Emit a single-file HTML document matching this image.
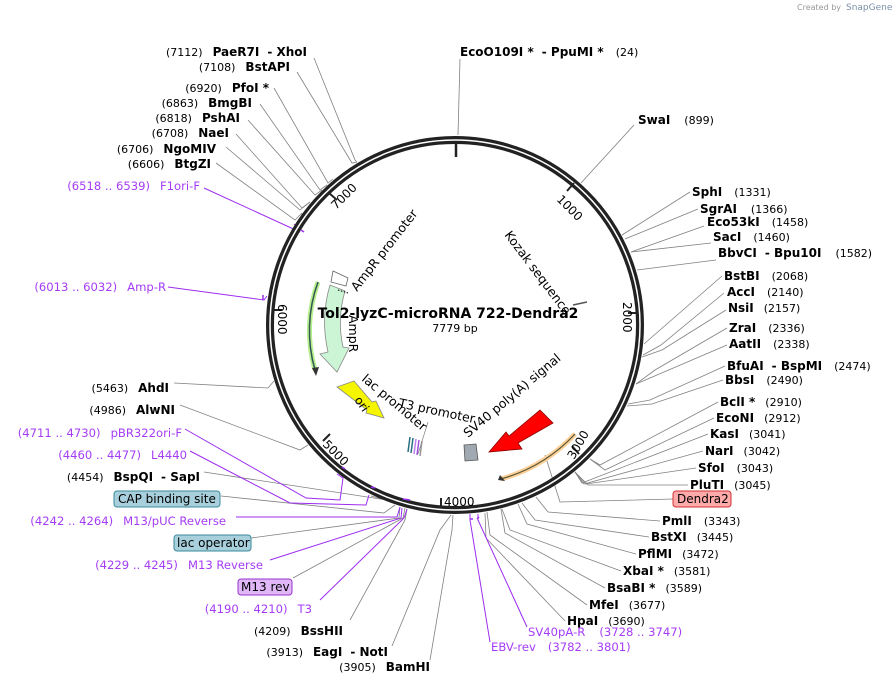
<!DOCTYPE html>
<html><head><meta charset="utf-8"><style>
html,body{margin:0;padding:0;background:#fff;}
svg{display:block;font-family:"DejaVu Sans","Liberation Sans",sans-serif;}
.n{font-weight:bold;font-size:12px;fill:#000}
.p{font-size:11px;fill:#000}
.pu{font-size:11.6px;fill:#a53cf5}
.l{stroke:#808080;stroke-width:0.8;fill:none}
.lp{stroke:#9c2cf0;stroke-width:1;fill:none}
.f{font-size:12px;fill:#000}
</style></head><body>
<svg width="895" height="686" viewBox="0 0 895 686" xmlns="http://www.w3.org/2000/svg">
<text x="797" y="10" font-size="8" fill="#999">Created by</text>
<text x="846" y="10" font-size="9" fill="#7a8ea8">SnapGene</text>

<path class="l" d="M458,135 L460,59"/>
<path class="l" d="M581,183 L634,125"/>
<path class="l" d="M622,235 L690,192"/>
<path class="l" d="M625,239 L698,209"/>
<path class="l" d="M631,252 L704,226"/>
<path class="l" d="M631,252 L711,243"/>
<path class="l" d="M637,270 L716,260"/>
<path class="l" d="M644,344 L660,330 L722,276"/>
<path class="l" d="M643,355 L661,345 L724,293"/>
<path class="l" d="M642,357 L662,350 L726,310"/>
<path class="l" d="M636,384 L655,370 L727,328"/>
<path class="l" d="M636,384 L657,375 L727,345"/>
<path class="l" d="M628,404 L650,400 L725,366"/>
<path class="l" d="M627,406 L652,404 L723,380"/>
<path class="l" d="M590,459 L600,465 L718,402"/>
<path class="l" d="M590,459 L605,470 L714,418"/>
<path class="l" d="M575,472 L582,483 L708,434"/>
<path class="l" d="M575,472 L584,484 L703,451"/>
<path class="l" d="M575,472 L586,484 L696,468"/>
<path class="l" d="M575,472 L588,485 L688,485"/>
<path class="l" d="M545,455 L560,502 L673,499"/>
<path class="l" d="M536,497 L548,512 L660,521"/>
<path class="l" d="M522,503 L535,520 L649,537"/>
<path class="l" d="M518,504 L527,524 L636,554"/>
<path class="l" d="M502,509 L510,530 L621,571"/>
<path class="l" d="M501,509 L505,533 L605,588"/>
<path class="l" d="M487,512 L490,535 L587,605"/>
<path class="l" d="M485,513 L486,538 L565,621"/>
<path class="lp" d="M478,514 L478,520 L527,627"/>
<path class="lp" d="M470,514 L470,520 L490,642"/>
<path class="l" d="M453,515 L452,530 L430,660"/>
<path class="l" d="M451,515 L440,530 L392,646"/>
<path class="l" d="M407,509 L405,520 L350,620"/>
<path class="lp" d="M407,509 L404,518 L320,600"/>
<path class="l" d="M405,508 L403,518 L293,578"/>
<path class="lp" d="M402,508 L401,518 L270,560"/>
<path class="l" d="M400,507 L399,518 L251,538"/>
<path class="lp" d="M400,507 L397,517 L236,517"/>
<path class="l" d="M395,505 L384,513 L221,496"/>
<path class="l" d="M371,496 L387,500 L204,472"/>
<path class="lp" d="M369,495 L366,505 L290,503 L190,451"/>
<path class="lp" d="M337,474 L343,478 L340,500 L306,498 L185,429"/>
<path class="l" d="M308,445 L300,450 L180,405"/>
<path class="l" d="M274,381 L268,388 L174,383"/>
<path class="lp" d="M267,296 L264,300 L168,287"/>
<path class="lp" d="M294,224 L300,232 L204,188"/>
<path class="l" d="M302,213 L295,220 L216,163"/>
<path class="l" d="M310,202 L300,210 L226,147"/>
<path class="l" d="M310,202 L302,208 L236,134"/>
<path class="l" d="M322,190 L315,195 L248,120"/>
<path class="l" d="M327,185 L320,190 L260,104"/>
<path class="l" d="M333,179 L328,183 L274,88"/>
<path class="l" d="M357,162 L352,163 L297,72"/>
<path class="l" d="M357,162 L355,160 L314,58"/>

<circle cx="455" cy="325" r="185" fill="none" stroke="#222" stroke-width="8"/>
<circle cx="455" cy="325" r="185" fill="none" stroke="#fff" stroke-width="1.5"/>
<path stroke="#222" stroke-width="2.5" d="M456,142 L456,157"/>
<g stroke="#222" stroke-width="2">
<path d="M574,183 L567,191"/>
<path d="M638,313 L628,313"/>
<path d="M579,454 L572,446"/>
<path d="M441,508 L441,498"/>
<path d="M323,441 L330,434"/>
<path d="M272,310 L282,310"/>
<path d="M329,193 L337,200"/>
</g>
<g font-size="12" fill="#000">
<text transform="translate(556,200) rotate(45)">1000</text>
<text transform="translate(623,302) rotate(90)">2000</text>
<text transform="translate(574,460) rotate(-60)">3000</text>
<text x="444" y="506">4000</text>
<text transform="translate(322,445) rotate(45)">5000</text>
<text transform="translate(278,304) rotate(90)">6000</text>
<text transform="translate(336,210) rotate(-45)">7000</text>
</g>

<!-- AmpR arrow r 113..133 -->
<path d="M330,285 A132,132 0 0 0 328,352 L320,354 L337,372 L349,348 L343,347 A113,113 0 0 1 345,291 Z" fill="#ccf5d5" stroke="#888" stroke-width="0.8"/>
<path d="M331,282 L346,286 L348,278 L333,271 Z" fill="#fff" stroke="#666" stroke-width="0.8"/>
<path d="M338,290 L348,293" stroke="#000" stroke-dasharray="1.5,1.5"/>
<path d="M318,282 A142,142 0 0 0 315,370" fill="none" stroke="#b6f08c" stroke-width="5"/>
<path d="M318,282 A142,142 0 0 0 315,370" fill="none" stroke="#355" stroke-width="1.5"/>
<path d="M312,368 L316,376 L319,367 Z" fill="#333"/>
<path d="M337,387 L354,381 L372,402 L376,401 L384,418 L366,413 L367,410 Z" fill="#f5f500" stroke="#888" stroke-width="0.8"/>
<text transform="translate(354,400) rotate(55)" font-size="12">ori</text>
<path d="M540,410 L553,423 L518,443 L522,449 L489,452 L506,432 L509,436 Z" fill="#f00" stroke="#800" stroke-width="0.8"/>
<path d="M575,434 A160,160 0 0 1 501,479" fill="none" stroke="#fdd09a" stroke-width="5"/>
<path d="M575,434 A160,160 0 0 1 501,479" fill="none" stroke="#553" stroke-width="1.2"/>
<path d="M500,475 L498,480 L505,481 Z" fill="#333"/>
<path d="M464,445 L476,444 L478,460 L465,461 Z" fill="#a0a8b2" stroke="#555" stroke-width="0.8"/>
<g stroke-width="1.5">
<path d="M410,437 L408,452" stroke="#2a6f80"/>
<path d="M413,438 L411,453" stroke="#2a6f80"/>
<path d="M416,439 L414,454" stroke="#c080f0"/>
<path d="M419,440 L417,455" stroke="#a050e0"/>
<path d="M422,441 L420,456" stroke="#999"/>
</g>
<path d="M428,422 L418,454" stroke="#888" stroke-width="0.8"/>
<path d="M573,305 L587,302" stroke="#555" stroke-width="1.5"/>

<g font-size="12.5" fill="#000">
<text transform="translate(357,292) rotate(-52)">AmpR promoter</text>
<text transform="translate(504,235) rotate(53)">Kozak sequence</text>
<text transform="translate(349,315) rotate(90)">AmpR</text>
<text transform="translate(361,380) rotate(40)">lac promoter</text>
<text transform="translate(398,407) rotate(12)">T3 promoter</text>
<text transform="translate(468,438) rotate(-40)">SV40 poly(A) signal</text>
</g>
<text x="448" y="318" text-anchor="middle" font-size="14" font-weight="bold">Tol2-lyzC-microRNA 722-Dendra2</text>
<text x="455" y="332" text-anchor="middle" font-size="11">7779 bp</text>

<text x="460" y="56"><tspan class="n">EcoO109I *</tspan><tspan class="n" dx="8">- PpuMI *</tspan><tspan class="p" dx="12">(24)</tspan></text>

<g>
<text x="638" y="124"><tspan class="n">SwaI</tspan><tspan class="p" dx="14">(899)</tspan></text>
<text x="692" y="196"><tspan class="n">SphI</tspan><tspan class="p" dx="12">(1331)</tspan></text>
<text x="700" y="213"><tspan class="n">SgrAI</tspan><tspan class="p" dx="14">(1366)</tspan></text>
<text x="707" y="226"><tspan class="n">Eco53kI</tspan><tspan class="p" dx="12">(1458)</tspan></text>
<text x="713" y="241"><tspan class="n">SacI</tspan><tspan class="p" dx="12">(1460)</tspan></text>
<text x="718" y="257"><tspan class="n">BbvCI</tspan><tspan class="n" dx="8">- Bpu10I</tspan><tspan class="p" dx="14">(1582)</tspan></text>
<text x="724" y="280"><tspan class="n">BstBI</tspan><tspan class="p" dx="12">(2068)</tspan></text>
<text x="727" y="296"><tspan class="n">AccI</tspan><tspan class="p" dx="12">(2140)</tspan></text>
<text x="728" y="312"><tspan class="n">NsiI</tspan><tspan class="p" dx="10">(2157)</tspan></text>
<text x="729" y="332"><tspan class="n">ZraI</tspan><tspan class="p" dx="12">(2336)</tspan></text>
<text x="729" y="348"><tspan class="n">AatII</tspan><tspan class="p" dx="12">(2338)</tspan></text>
<text x="727" y="370"><tspan class="n">BfuAI</tspan><tspan class="n" dx="8">- BspMI</tspan><tspan class="p" dx="12">(2474)</tspan></text>
<text x="725" y="384"><tspan class="n">BbsI</tspan><tspan class="p" dx="12">(2490)</tspan></text>
<text x="720" y="406"><tspan class="n">BclI *</tspan><tspan class="p" dx="10">(2910)</tspan></text>
<text x="716" y="422"><tspan class="n">EcoNI</tspan><tspan class="p" dx="10">(2912)</tspan></text>
<text x="710" y="438"><tspan class="n">KasI</tspan><tspan class="p" dx="10">(3041)</tspan></text>
<text x="705" y="455"><tspan class="n">NarI</tspan><tspan class="p" dx="10">(3042)</tspan></text>
<text x="698" y="472"><tspan class="n">SfoI</tspan><tspan class="p" dx="12">(3043)</tspan></text>
<text x="690" y="489"><tspan class="n">PluTI</tspan><tspan class="p" dx="10">(3045)</tspan></text>
<rect x="673" y="491" width="58" height="16" rx="3" fill="#ffaaaa" stroke="#d03030"/>
<text x="677" y="503" class="f">Dendra2</text>
<text x="662" y="525"><tspan class="n">PmlI</tspan><tspan class="p" dx="12">(3343)</tspan></text>
<text x="651" y="541"><tspan class="n">BstXI</tspan><tspan class="p" dx="10">(3445)</tspan></text>
<text x="638" y="558"><tspan class="n">PflMI</tspan><tspan class="p" dx="10">(3472)</tspan></text>
<text x="623" y="575"><tspan class="n">XbaI *</tspan><tspan class="p" dx="10">(3581)</tspan></text>
<text x="607" y="592"><tspan class="n">BsaBI *</tspan><tspan class="p" dx="10">(3589)</tspan></text>
<text x="589" y="609"><tspan class="n">MfeI</tspan><tspan class="p" dx="10">(3677)</tspan></text>
<text x="567" y="625"><tspan class="n">HpaI</tspan><tspan class="p" dx="10">(3690)</tspan></text>
<text x="528" y="636" class="pu">SV40pA-R<tspan dx="14">(3728 .. 3747)</tspan></text>
<text x="491" y="651" class="pu">EBV-rev<tspan dx="12">(3782 .. 3801)</tspan></text>
</g>

<g text-anchor="end">
<text x="430" y="671"><tspan class="p">(3905)</tspan><tspan class="n" dx="10">BamHI</tspan></text>
<text x="388" y="656"><tspan class="p">(3913)</tspan><tspan class="n" dx="10">EagI</tspan><tspan class="n" dx="8">- NotI</tspan></text>
<text x="343" y="635"><tspan class="p">(4209)</tspan><tspan class="n" dx="10">BssHII</tspan></text>
<text x="312" y="613" class="pu">(4190 .. 4210)<tspan dx="10">T3</tspan></text>
<text x="263" y="569" class="pu">(4229 .. 4245)<tspan dx="10">M13 Reverse</tspan></text>
<text x="226" y="525" class="pu">(4242 .. 4264)<tspan dx="10">M13/pUC Reverse</tspan></text>
<text x="200" y="481"><tspan class="p">(4454)</tspan><tspan class="n" dx="10">BspQI</tspan><tspan class="n" dx="8">- SapI</tspan></text>
<text x="187" y="459" class="pu">(4460 .. 4477)<tspan dx="10">L4440</tspan></text>
<text x="182" y="437" class="pu">(4711 .. 4730)<tspan dx="10">pBR322ori-F</tspan></text>
<text x="175" y="414"><tspan class="p">(4986)</tspan><tspan class="n" dx="10">AlwNI</tspan></text>
<text x="169" y="392"><tspan class="p">(5463)</tspan><tspan class="n" dx="10">AhdI</tspan></text>
<text x="166" y="291" class="pu">(6013 .. 6032)<tspan dx="10">Amp-R</tspan></text>
<text x="200" y="190" class="pu">(6518 .. 6539)<tspan dx="10">F1ori-F</tspan></text>
<text x="211" y="168"><tspan class="p">(6606)</tspan><tspan class="n" dx="10">BtgZI</tspan></text>
<text x="216" y="153"><tspan class="p">(6706)</tspan><tspan class="n" dx="10">NgoMIV</tspan></text>
<text x="229" y="137"><tspan class="p">(6708)</tspan><tspan class="n" dx="10">NaeI</tspan></text>
<text x="240" y="122"><tspan class="p">(6818)</tspan><tspan class="n" dx="10">PshAI</tspan></text>
<text x="252" y="107"><tspan class="p">(6863)</tspan><tspan class="n" dx="10">BmgBI</tspan></text>
<text x="269" y="92"><tspan class="p">(6920)</tspan><tspan class="n" dx="10">PfoI *</tspan></text>
<text x="290" y="71"><tspan class="p">(7108)</tspan><tspan class="n" dx="10">BstAPI</tspan></text>
<text x="307" y="56"><tspan class="p">(7112)</tspan><tspan class="n" dx="10">PaeR7I</tspan><tspan class="n" dx="8">- XhoI</tspan></text>
</g>
<rect x="114" y="491" width="106" height="16" rx="3" fill="#a8d0dc" stroke="#3a8a9a"/>
<text x="118" y="503" class="f">CAP binding site</text>
<rect x="174" y="535" width="77" height="16" rx="3" fill="#a8d0dc" stroke="#3a8a9a"/>
<text x="177" y="547" class="f">lac operator</text>
<rect x="238" y="579" width="54" height="16" rx="3" fill="#e0b8f8" stroke="#9933cc"/>
<text x="241" y="591" class="f">M13 rev</text>

<g stroke="#9c2cf0" stroke-width="1.5">
<path d="M301,230 L304,232"/><path d="M263,295 L263,300"/><path d="M342,467 L345,469"/>
<path d="M371,487 L375,488"/><path d="M403,499 L410,500"/><path d="M470,519 L473,519"/><path d="M477,519 L479,517"/>
</g>
</svg>
</body></html>
